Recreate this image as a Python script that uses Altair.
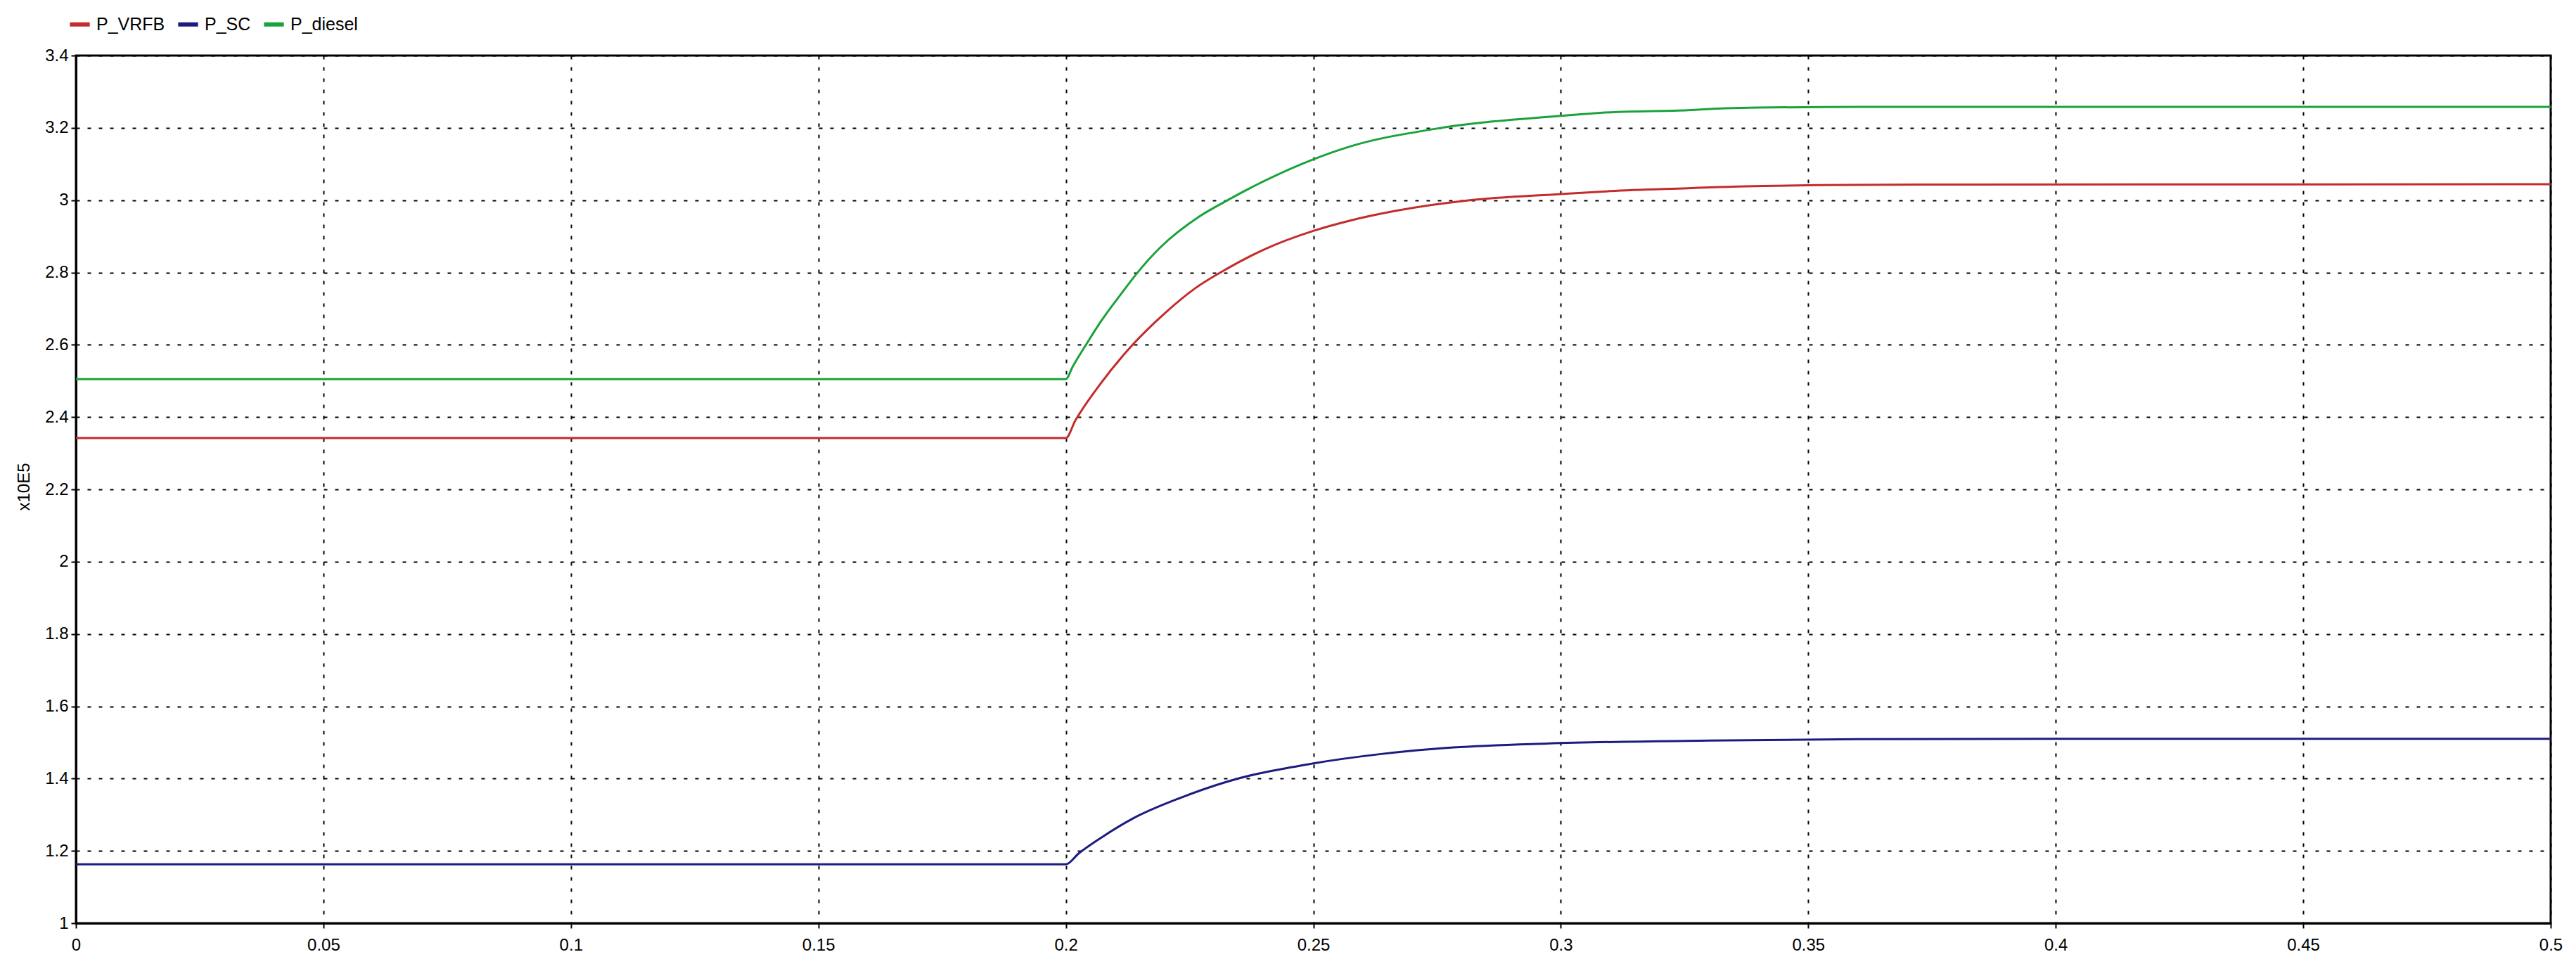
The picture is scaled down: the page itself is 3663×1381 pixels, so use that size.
import altair as alt
import pandas as pd

# (time in s, power in x10E5)
t_vrfb = [0.0, 0.2, 0.2019, 0.2071, 0.2135, 0.2199, 0.2261, 0.2325, 0.2403, 0.25, 0.2573,
          0.2665, 0.281, 0.3, 0.31, 0.3257, 0.336, 0.372, 0.5]
p_vrfb = [2.342, 2.342, 2.39, 2.494, 2.6, 2.686, 2.756, 2.81, 2.865, 2.915, 2.943,
          2.97, 2.999, 3.017, 3.025, 3.033, 3.038, 3.043, 3.044]

t_sc = [0.0, 0.2, 0.2026, 0.2073, 0.2136, 0.2232, 0.2327, 0.25, 0.2637, 0.2783, 0.2973,
        0.33, 0.36, 0.4, 0.5]
p_sc = [1.163, 1.163, 1.193, 1.238, 1.29, 1.347, 1.392, 1.442, 1.468, 1.486, 1.497,
        1.505, 1.509, 1.51, 1.51]

t_diesel = [0.0, 0.2, 0.2014, 0.2043, 0.2071, 0.2114, 0.2142, 0.219, 0.227, 0.2327, 0.2389,
            0.25, 0.2573, 0.2745, 0.3, 0.31, 0.3257, 0.3333, 0.3606, 0.5]
p_diesel = [2.505, 2.505, 2.54, 2.605, 2.665, 2.745, 2.795, 2.868, 2.955, 3.0, 3.045,
            3.113, 3.148, 3.197, 3.233, 3.243, 3.249, 3.254, 3.258, 3.258]

series_names = ["P_VRFB", "P_SC", "P_diesel"]
series_colors = ["#c42b2b", "#1c1c80", "#1aa33a"]
x_ticks = [0, 0.05, 0.1, 0.15, 0.2, 0.25, 0.3, 0.35, 0.4, 0.45, 0.5]
y_ticks = [1, 1.2, 1.4, 1.6, 1.8, 2, 2.2, 2.4, 2.6, 2.8, 3, 3.2, 3.4]

rows = []
for name, ts, ps in [("P_VRFB", t_vrfb, p_vrfb), ("P_SC", t_sc, p_sc), ("P_diesel", t_diesel, p_diesel)]:
    for i, (t, p) in enumerate(zip(ts, ps)):
        rows.append({"t": t, "p": p, "series": name, "order": i})
df = pd.DataFrame(rows)

FONT = "Liberation Sans"

chart = alt.Chart(df).mark_line(strokeWidth=3, interpolate="monotone").encode(
    x=alt.X("t:Q",
            scale=alt.Scale(domain=[0, 0.5], nice=False, zero=False),
            axis=alt.Axis(values=x_ticks, format=".2~f", title=None,
                          labelOverlap=False, labelFlush=False)),
    y=alt.Y("p:Q",
            scale=alt.Scale(domain=[1, 3.4], nice=False, zero=False),
            axis=alt.Axis(values=y_ticks, format=".1~f", title="x10E5",
                          titleAngle=-90, titleX=-74, titleY=613,
                          titleAlign="center", titleBaseline="middle",
                          labelOverlap=False, labelFlush=False)),
    color=alt.Color("series:N",
                    scale=alt.Scale(domain=series_names, range=series_colors),
                    sort=series_names,
                    legend=alt.Legend(title=None, orient="none", legendX=-12, legendY=-62,
                                      direction="horizontal", symbolType="stroke",
                                      symbolStrokeWidth=6, symbolSize=800,
                                      labelFontSize=25, labelFont=FONT, labelColor="#000000",
                                      labelOffset=6, columnPadding=6)),
    order="order:Q",
).properties(
    width=3519, height=1234,
    autosize=alt.AutoSizeParams(type="none"),
    padding={"left": 100, "top": 71, "right": 28, "bottom": 55},
).configure_view(
    stroke="#000000", strokeWidth=3
).configure_axis(
    domainColor="#000000", domainWidth=3,
    tickColor="#000000", tickWidth=2, tickSize=7,
    grid=True, gridColor="#000000", gridWidth=2, gridDash=[5, 11], gridOpacity=1,
    labelFont=FONT, labelFontSize=24, labelColor="#000000",
    titleFont=FONT, titleFontSize=24, titleColor="#000000", titleFontWeight="normal",
).configure_axisX(
    labelPadding=12
).configure_axisY(
    labelPadding=4
)

chart.save("out.html", embed_options={"renderer": "svg", "actions": False})
